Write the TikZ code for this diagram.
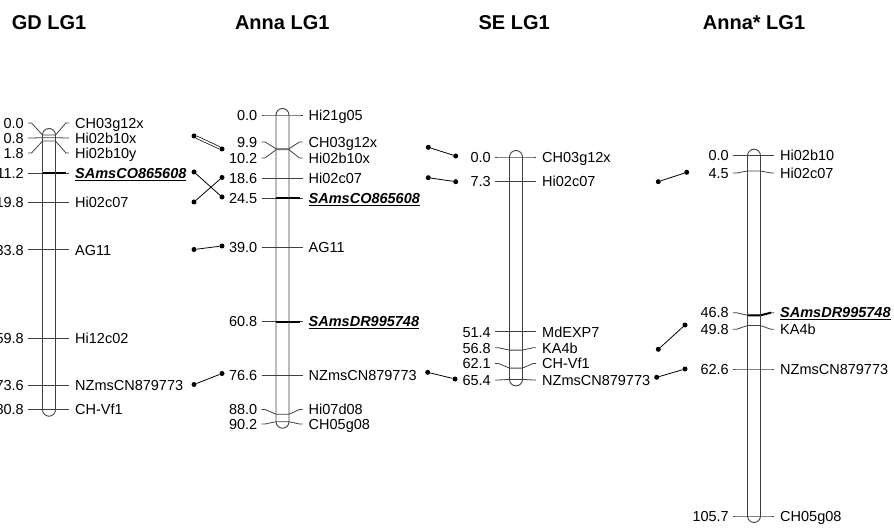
\documentclass[tikz,border=0pt]{standalone}
\usepackage{fontspec}
\setmainfont{Liberation Sans}
\newcommand{\lblfont}{\fontsize{14.5}{17}\selectfont}
\newcommand{\ttlfont}{\fontsize{20}{24}\selectfont\bfseries}
\newcommand{\smark}[1]{\textbf{\textit{\underline{#1}}}}
\tikzset{
  chrom/.style={draw=black!75, line width=0.9pt, rounded corners=6.5pt},
  tickln/.style={draw=black!75, line width=0.8pt},
  boldtick/.style={draw=black, line width=2pt},
  numlbl/.style={anchor=base east, inner sep=0pt, font=\lblfont},
  namelbl/.style={anchor=base west, inner sep=0pt, font=\lblfont},
  titlelbl/.style={anchor=base west, inner sep=0pt, font=\ttlfont},
  dotnode/.style={circle, fill=black, inner sep=0pt, minimum size=5pt},
  link/.style={draw=black, line width=0.8pt},
  dlink/.style={draw=black, line width=0.7pt, double=white, double distance=1.6pt},
}
% #1 centre x, #2 label y, #3 true y, #4 number, #5 name, #6 id
\newcommand{\mrk}[6]{%
  \draw[tickln] ({#1-21},#2) -- ({#1-17.5},#2) -- ({#1-6.5},#3) -- ({#1+6.5},#3) -- ({#1+17},#2) -- ({#1+20},#2);
  \node[numlbl] (n#6) at ({#1-25},{#2+5.2}) {#4};
  \node[namelbl] (m#6) at ({#1+26},{#2+5.2}) {#5};
}
\newcommand{\bmrk}[6]{%
  \mrk{#1}{#2}{#3}{#4}{\smark{#5}}{#6}
  \draw[boldtick] ({#1-6.5},#3) -- ({#1+6.5},#3) -- ({#1+17},#2);
}
\begin{document}
\begin{tikzpicture}[x=1pt,y=-1pt]
\useasboundingbox (0,0) rectangle (894,529);
\clip (0,0) rectangle (894,529);

% titles
\node[titlelbl] (t1) at (11.7,30) {GD LG1};
\node[titlelbl] (t2) at (234.8,30) {Anna LG1};
\node[titlelbl] (t3) at (478.4,30) {SE LG1};
\node[titlelbl] (t4) at (702.7,30) {Anna* LG1};

% ---- GD LG1 (c = 49)
\mrk{49}{123}{135}{0.0}{CH03g12x}{g1}
\mrk{49}{138}{137.7}{0.8}{Hi02b10x}{g2}
\mrk{49}{153}{141.1}{1.8}{Hi02b10y}{g3}
\bmrk{49}{173.1}{173.1}{11.2}{SAmsCO865608}{g4}
\mrk{49}{202.3}{202.3}{19.8}{Hi02c07}{g5}
\mrk{49}{249.9}{249.9}{33.8}{AG11}{g6}
\mrk{49}{338.3}{338.3}{59.8}{Hi12c02}{g7}
\mrk{49}{385.2}{385.2}{73.6}{NZmsCN879773}{g8}
\mrk{49}{409.7}{409.7}{80.8}{CH-Vf1}{g9}
\draw[chrom] (42.5,128.5) rectangle (55.5,416.2);

% ---- Anna LG1 (c = 282.5)
\mrk{282.5}{115}{115}{0.0}{Hi21g05}{a1}
\mrk{282.5}{142}{148.7}{9.9}{CH03g12x}{a2}
\mrk{282.5}{158}{149.7}{10.2}{Hi02b10x}{a3}
\mrk{282.5}{178.2}{178.2}{18.6}{Hi02c07}{a4}
\bmrk{282.5}{198.3}{198.3}{24.5}{SAmsCO865608}{a5}
\mrk{282.5}{247.6}{247.6}{39.0}{AG11}{a6}
\bmrk{282.5}{321.7}{321.7}{60.8}{SAmsDR995748}{a7}
\mrk{282.5}{375.4}{375.4}{76.6}{NZmsCN879773}{a8}
\mrk{282.5}{409.5}{414.2}{88.0}{Hi07d08}{a9}
\mrk{282.5}{424}{421.7}{90.2}{CH05g08}{a10}
\draw[chrom] (276,108.5) rectangle (289,428.2);

% ---- SE LG1 (c = 516)
\mrk{516}{157}{157}{0.0}{CH03g12x}{s1}
\mrk{516}{181.8}{181.8}{7.3}{Hi02c07}{s2}
\mrk{516}{331.8}{331.8}{51.4}{MdEXP7}{s3}
\mrk{516}{347.8}{350.1}{56.8}{KA4b}{s4}
\mrk{516}{363.5}{368.1}{62.1}{CH-Vf1}{s5}
\mrk{516}{380}{379.4}{65.4}{NZmsCN879773}{s6}
\draw[chrom] (509.5,150.5) rectangle (522.5,385.9);

% ---- Anna* LG1 (c = 754)
\mrk{754}{155.7}{155.7}{0.0}{Hi02b10}{b1}
\mrk{754}{173}{171}{4.5}{Hi02c07}{b2}
\bmrk{754}{312.7}{315.3}{46.8}{SAmsDR995748}{b3}
\mrk{754}{329.3}{325.5}{49.8}{KA4b}{b4}
\mrk{754}{369}{369}{62.6}{NZmsCN879773}{b5}
\mrk{754}{516}{516}{105.7}{CH05g08}{b6}
\draw[chrom] (747.5,149.2) rectangle (760.5,522.5);

% ---- connectors GD -> Anna
\node[dotnode] (c1a) at (194,136) {};   \node[dotnode] (c1b) at (222,149) {};
\node[dotnode] (c2a) at (194,172) {};   \node[dotnode] (c2b) at (222,197) {};
\node[dotnode] (c3a) at (194,202) {};   \node[dotnode] (c3b) at (222,177.5) {};
\node[dotnode] (c4a) at (194,249.5) {}; \node[dotnode] (c4b) at (222,246) {};
\node[dotnode] (c5a) at (194,384.5) {}; \node[dotnode] (c5b) at (222,373.5) {};
\draw[dlink] (c1a) -- (c1b);
\draw[link] (c2a) -- (c2b);
\draw[link] (c3a) -- (c3b);
\draw[link] (c4a) -- (c4b);
\draw[link] (c5a) -- (c5b);

% ---- connectors Anna -> SE
\node[dotnode] (c6a) at (428.3,147.3) {}; \node[dotnode] (c6b) at (455.7,156) {};
\node[dotnode] (c7a) at (428.3,177.7) {}; \node[dotnode] (c7b) at (455.7,181.7) {};
\node[dotnode] (c8a) at (427.7,372.3) {}; \node[dotnode] (c8b) at (455,379) {};
\draw[link] (c6a) -- (c6b);
\draw[link] (c7a) -- (c7b);
\draw[link] (c8a) -- (c8b);

% ---- connectors SE -> Anna*
\node[dotnode] (c9a) at (658.3,181.7) {};  \node[dotnode] (c9b) at (686.7,172.3) {};
\node[dotnode] (c10a) at (658.3,349.3) {}; \node[dotnode] (c10b) at (685,325) {};
\node[dotnode] (c11a) at (656.7,377.3) {}; \node[dotnode] (c11b) at (685,369) {};
\draw[link] (c9a) -- (c9b);
\draw[link] (c10a) -- (c10b);
\draw[link] (c11a) -- (c11b);
\end{tikzpicture}
\end{document}
